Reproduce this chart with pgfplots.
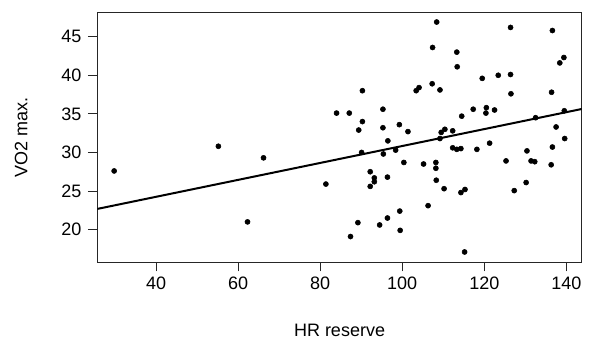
\documentclass[border=0pt]{standalone}
\usepackage{fontspec}
\setmainfont{Liberation Sans}
\usepackage{pgfplots}
\pgfplotsset{compat=1.18}
\begin{document}
\begin{tikzpicture}
\useasboundingbox (-73pt,-57.75pt) rectangle (375.5pt,196.5pt);
\begin{axis}[
  at={(0,0)}, anchor=south west,
  width=363.3pt, height=187.5pt, scale only axis,
  xmin=25.7, xmax=143.75, ymin=15.8, ymax=48.2,
  xtick={40,60,...,140}, ytick={20,25,...,45},
  tick align=outside, tick pos=left,
  major tick length=7pt,
  axis line style={line width=0.7pt, black!85},
  tick style={line width=0.7pt, black!85},
  font=\fontsize{13.5}{16}\selectfont,
  /pgf/number format/assume math mode=true,
  xticklabel style={yshift=-1pt},
  yticklabel style={xshift=-1.5pt},
  xlabel={HR reserve}, ylabel={VO2 max.},
  xlabel style={at={(axis description cs:0.5,-0.272)}, anchor=center},
  ylabel style={at={(axis description cs:-0.157,0.5)}, anchor=center},
  clip=true,
]
% observations
\addplot[only marks, mark=*, mark size=1.9pt, black] table {
x y
29.8 27.6
55.2 30.8
66.2 29.3
62.3 21.0
81.4 25.9
84.0 35.1
87.1 35.1
89.4 32.9
90.3 38.0
90.3 34.0
90.1 30.0
95.3 35.6
95.3 33.2
96.5 31.5
95.4 29.8
98.4 30.3
99.3 33.6
101.4 32.7
100.4 28.7
92.2 27.5
93.2 26.7
93.2 26.2
92.2 25.6
96.4 26.8
89.2 20.9
87.4 19.1
94.5 20.6
96.4 21.5
99.4 22.4
99.5 19.9
103.4 38.0
104.1 38.4
107.3 38.9
107.4 43.6
108.4 46.9
109.2 38.1
105.2 28.5
108.2 28.7
108.2 27.95
108.3 26.4
110.2 25.3
106.3 23.1
109.5 32.6
110.4 33.0
109.2 31.8
112.3 32.8
112.3 30.6
113.3 30.4
114.3 30.5
113.3 43.0
113.4 41.1
114.5 34.7
114.3 24.8
115.3 25.2
115.2 17.1
118.2 30.4
117.3 35.6
119.5 39.6
120.5 35.8
120.4 35.1
122.5 35.5
121.3 31.2
123.4 40.0
126.4 46.2
126.4 40.1
126.5 37.6
125.3 28.9
127.3 25.05
130.4 30.2
131.4 28.9
132.3 28.8
130.2 26.1
132.5 34.5
136.6 45.8
136.4 37.8
138.4 41.6
139.4 42.3
139.5 35.4
137.5 33.3
136.6 30.7
139.6 31.8
136.3 28.4
};
% least-squares fit
\addplot[black, line width=1.5pt] coordinates {(25.7,22.68) (143.75,35.63)};
\end{axis}
\end{tikzpicture}
\end{document}
